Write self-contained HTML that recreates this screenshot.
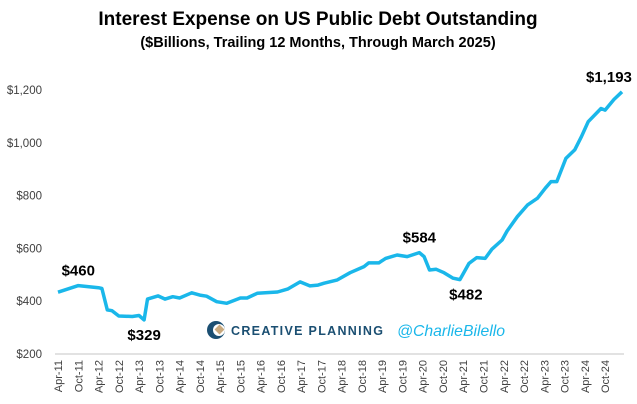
<!DOCTYPE html>
<html><head><meta charset="utf-8"><style>
body{margin:0;background:#fff;}
svg{display:block;font-family:"Liberation Sans",sans-serif;}
</style></head><body>
<svg id="chart" width="637" height="404" viewBox="0 0 637 404">
<text x="318" y="25" text-anchor="middle" font-size="19" font-weight="bold" fill="#000">Interest Expense on US Public Debt Outstanding</text>
<text x="318" y="47" text-anchor="middle" font-size="14.5" font-weight="bold" fill="#000">($Billions, Trailing 12 Months, Through March 2025)</text>
<g id="yaxis"></g>
<line x1="55" y1="354" x2="624" y2="354" stroke="#d9d9d9" stroke-width="1.5"/>
<g id="xaxis"></g>
<g>
<circle cx="216" cy="330" r="9" fill="#1b4f72"/>
<circle cx="219" cy="330" r="6" fill="#fff"/>
<rect x="216" y="326" width="7" height="7" fill="#c8a97e" transform="rotate(45 219.5 329.5)"/>
<text x="231" y="335" font-size="12.5" font-weight="bold" textLength="152" lengthAdjust="spacing" fill="#1b4f72">CREATIVE PLANNING</text>
<text x="397" y="336" font-size="16" font-style="italic" textLength="108" lengthAdjust="spacingAndGlyphs" fill="#1ab7ea">@CharlieBilello</text>
</g>
<path id="line" fill="none" stroke="#1ab7ea" stroke-width="3.5" stroke-linejoin="round"/>
<g id="labels"></g>
</svg>
<script>
const months=[0,6,12,13,14.6,16,18,22,24,25.5,26.5,29.6,31.7,34,36,39.6,42,44,47,50,54,56,59,65,68,71.7,74.6,77,78.8,82.6,86.5,90.6,92,95,97,100.4,103.4,107,108.4,110,112,114.3,117,119,121.7,124,126.5,128.5,131.5,133,136,139,142,144.3,146,147.7,150.4,153,155,157,160.8,162,164.6,167];
const values=[434,459,451,448,367,364,344,342,346,329,408,420,408,417,412,432,423,419,398,392,412,412,430,435,446,473,458,461,468,480,508,531,545,545,562,575,569,584,569,518,521,508,487,482,543,565,562,597,632,666,720,764,790,828,853,853,941,973,1023,1080,1130,1124,1164,1193];
const yTicks=[200,400,600,800,1000,1200];
const xTickLabels=["Apr-11","Oct-11","Apr-12","Oct-12","Apr-13","Oct-13","Apr-14","Oct-14","Apr-15","Oct-15","Apr-16","Oct-16","Apr-17","Oct-17","Apr-18","Oct-18","Apr-19","Oct-19","Apr-20","Oct-20","Apr-21","Oct-21","Apr-22","Oct-22","Apr-23","Oct-23","Apr-24","Oct-24"];
const annMonths=[6,25.5,107,119,167];
const annValues=[460,329,584,482,1193];
const annText=["$460","$329","$584","$482","$1,193"];
const annDy=[-10,20,-10,20,-10];
const annDx=[0,0,0,6,-13];
const NS="http://www.w3.org/2000/svg";
const X=m=>58+m*3.377;
const Y=v=>354-(v-200)*0.264;
const ya=document.getElementById('yaxis');
yTicks.forEach(t=>{const e=document.createElementNS(NS,'text');
e.setAttribute('x',42);e.setAttribute('y',Y(t)+4);e.setAttribute('text-anchor','end');e.setAttribute('font-size','11.5');e.setAttribute('fill','#404040');


e.textContent='$'+t.toLocaleString('en-US');ya.appendChild(e);});
const xa=document.getElementById('xaxis');
xTickLabels.forEach((l,i)=>{const x=X(i*6)+4;const e=document.createElementNS(NS,'text');
e.setAttribute('transform',`translate(${x},360) rotate(-90)`);e.setAttribute('text-anchor','end');e.setAttribute('font-size','11');e.setAttribute('fill','#404040');


e.textContent=l;xa.appendChild(e);});
document.getElementById('line').setAttribute('d',months.map((m,i)=>(i?'L':'M')+X(m).toFixed(1)+','+Y(values[i]).toFixed(1)).join(''));
const lg=document.getElementById('labels');
annText.forEach((t,i)=>{const e=document.createElementNS(NS,'text');
e.setAttribute('x',X(annMonths[i])+annDx[i]);e.setAttribute('y',Y(annValues[i])+annDy[i]);e.setAttribute('text-anchor','middle');e.setAttribute('font-size','15');e.setAttribute('font-weight','bold');


e.textContent=t;lg.appendChild(e);});
</script>
</body></html>
